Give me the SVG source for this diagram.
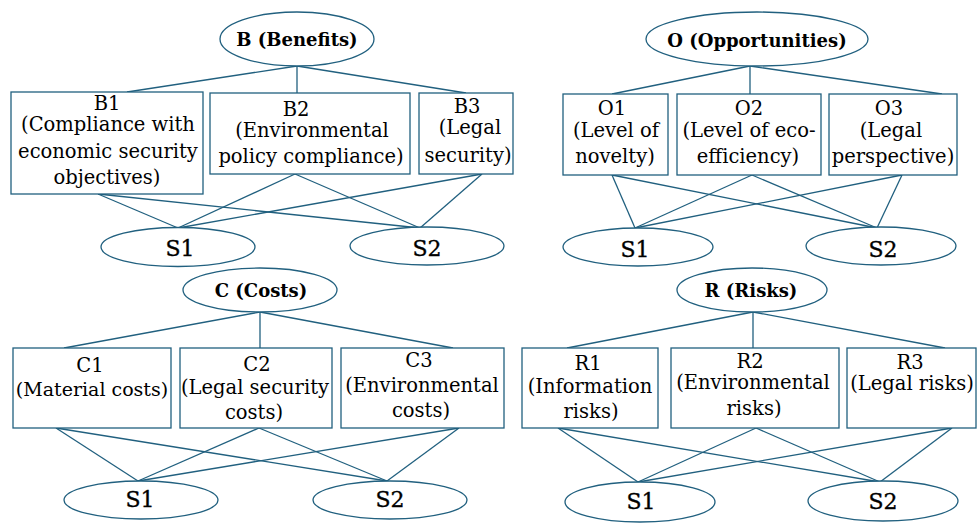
<svg xmlns="http://www.w3.org/2000/svg" width="977" height="525" viewBox="0 0 977 525">
<style>
  .shape { fill: #ffffff; stroke: #21607f; stroke-width: 1.3; }
  .conn line { stroke: #21607f; stroke-width: 1.3; }
  text { font-family: "DejaVu Serif", "Liberation Serif", serif; fill: #000000; text-anchor: middle; }
  .t { font-size: 19.5px; }
  .h { font-size: 18px; font-weight: bold; }
  .s { font-size: 22px; stroke: #000000; stroke-width: 0.35; }
</style>
<rect width="977" height="525" fill="#ffffff"/>
<g id="connectors" class="conn">
  <!-- Benefits -->
  <line x1="297" y1="66" x2="127" y2="92"/>
  <line x1="297" y1="66" x2="297" y2="93"/>
  <line x1="297" y1="66" x2="466" y2="93"/>
  <line x1="98" y1="194" x2="178" y2="228"/>
  <line x1="98" y1="194" x2="420" y2="228"/>
  <line x1="295" y1="174" x2="178" y2="228"/>
  <line x1="295" y1="174" x2="420" y2="228"/>
  <line x1="482" y1="174" x2="178" y2="228"/>
  <line x1="482" y1="174" x2="420" y2="228"/>
  <!-- Opportunities -->
  <line x1="750" y1="66" x2="612" y2="94"/>
  <line x1="750" y1="66" x2="750" y2="94"/>
  <line x1="750" y1="66" x2="942" y2="94"/>
  <line x1="612" y1="175" x2="635" y2="228"/>
  <line x1="612" y1="175" x2="877" y2="228"/>
  <line x1="752" y1="175" x2="635" y2="228"/>
  <line x1="752" y1="175" x2="877" y2="228"/>
  <line x1="902" y1="175" x2="635" y2="228"/>
  <line x1="902" y1="175" x2="877" y2="228"/>
  <!-- Costs -->
  <line x1="260" y1="312" x2="64" y2="348"/>
  <line x1="260" y1="312" x2="260" y2="348"/>
  <line x1="260" y1="312" x2="453" y2="348"/>
  <line x1="56" y1="428" x2="138" y2="481"/>
  <line x1="56" y1="428" x2="387" y2="481"/>
  <line x1="259" y1="428" x2="138" y2="481"/>
  <line x1="259" y1="428" x2="387" y2="481"/>
  <line x1="459" y1="428" x2="138" y2="481"/>
  <line x1="459" y1="428" x2="387" y2="481"/>
  <!-- Risks -->
  <line x1="753" y1="312" x2="567" y2="348"/>
  <line x1="753" y1="312" x2="753" y2="348"/>
  <line x1="753" y1="312" x2="945" y2="348"/>
  <line x1="558" y1="428" x2="638" y2="482"/>
  <line x1="558" y1="428" x2="880" y2="482"/>
  <line x1="756" y1="428" x2="638" y2="482"/>
  <line x1="756" y1="428" x2="880" y2="482"/>
  <line x1="952" y1="428" x2="638" y2="482"/>
  <line x1="952" y1="428" x2="880" y2="482"/>
</g>

<!-- Benefits -->
<g id="B">
  <ellipse class="shape" cx="297" cy="39" rx="77" ry="27"/>
  <text class="h" x="297" y="46">B (Benefits)</text>
</g>
<g id="B1">
  <rect class="shape" x="11" y="92" width="192" height="102"/>
  <text class="t" x="107" y="110">B1</text>
  <text class="t" x="108" y="131">(Compliance with</text>
  <text class="t" x="108" y="158">economic security</text>
  <text class="t" x="107" y="184">objectives)</text>
</g>
<g id="B2">
  <rect class="shape" x="210" y="93" width="200" height="81"/>
  <text class="t" x="296" y="116">B2</text>
  <text class="t" x="312" y="137">(Environmental</text>
  <text class="t" x="311" y="163">policy compliance)</text>
</g>
<g id="B3">
  <rect class="shape" x="419" y="93" width="94" height="81"/>
  <text class="t" x="467" y="113">B3</text>
  <text class="t" x="470" y="134">(Legal</text>
  <text class="t" x="468" y="162">security)</text>
</g>
<g id="B-S1">
  <ellipse class="shape" cx="178" cy="247" rx="77" ry="19.5"/>
  <text class="s" x="180" y="256">S1</text>
</g>
<g id="B-S2">
  <ellipse class="shape" cx="427" cy="246" rx="77" ry="19"/>
  <text class="s" x="427" y="256">S2</text>
</g>

<!-- Opportunities -->
<g id="O">
  <ellipse class="shape" cx="757" cy="39" rx="111" ry="27"/>
  <text class="h" x="757" y="47">O (Opportunities)</text>
</g>
<g id="O1">
  <rect class="shape" x="563" y="94" width="105" height="81"/>
  <text class="t" x="612" y="115">O1</text>
  <text class="t" x="616" y="137">(Level of</text>
  <text class="t" x="615" y="163">novelty)</text>
</g>
<g id="O2">
  <rect class="shape" x="677" y="94" width="144" height="81"/>
  <text class="t" x="749" y="115">O2</text>
  <text class="t" x="749" y="137">(Level of eco-</text>
  <text class="t" x="748" y="163">efficiency)</text>
</g>
<g id="O3">
  <rect class="shape" x="829" y="94" width="128" height="81"/>
  <text class="t" x="889" y="115">O3</text>
  <text class="t" x="891" y="137">(Legal</text>
  <text class="t" x="893" y="163">perspective)</text>
</g>
<g id="O-S1">
  <ellipse class="shape" cx="638" cy="247" rx="75" ry="19"/>
  <text class="s" x="635" y="257">S1</text>
</g>
<g id="O-S2">
  <ellipse class="shape" cx="881" cy="246" rx="75" ry="19"/>
  <text class="s" x="883" y="257">S2</text>
</g>

<!-- Costs -->
<g id="C">
  <ellipse class="shape" cx="260" cy="290" rx="77" ry="22"/>
  <text class="h" x="261" y="297">C (Costs)</text>
</g>
<g id="C1">
  <rect class="shape" x="13" y="348" width="158" height="80"/>
  <text class="t" x="90" y="372">C1</text>
  <text class="t" x="92" y="396" style="font-size:19px">(Material costs)</text>
</g>
<g id="C2">
  <rect class="shape" x="180" y="348" width="152" height="80"/>
  <text class="t" x="257" y="371">C2</text>
  <text class="t" x="255" y="394">(Legal security</text>
  <text class="t" x="254" y="419">costs)</text>
</g>
<g id="C3">
  <rect class="shape" x="341" y="348" width="163" height="80"/>
  <text class="t" x="419" y="367">C3</text>
  <text class="t" x="422" y="392">(Environmental</text>
  <text class="t" x="421" y="417">costs)</text>
</g>
<g id="C-S1">
  <ellipse class="shape" cx="141" cy="500" rx="77" ry="19"/>
  <text class="s" x="140" y="507">S1</text>
</g>
<g id="C-S2">
  <ellipse class="shape" cx="390" cy="500" rx="77" ry="19"/>
  <text class="s" x="390" y="507">S2</text>
</g>

<!-- Risks -->
<g id="R">
  <ellipse class="shape" cx="752" cy="290" rx="75" ry="22"/>
  <text class="h" x="751" y="297">R (Risks)</text>
</g>
<g id="R1">
  <rect class="shape" x="522" y="348" width="136" height="80"/>
  <text class="t" x="588" y="370">R1</text>
  <text class="t" x="590" y="393">(Information</text>
  <text class="t" x="591" y="418">risks)</text>
</g>
<g id="R2">
  <rect class="shape" x="671" y="348" width="168" height="80"/>
  <text class="t" x="750" y="368">R2</text>
  <text class="t" x="753" y="389">(Environmental</text>
  <text class="t" x="754" y="415">risks)</text>
</g>
<g id="R3">
  <rect class="shape" x="847" y="348" width="129" height="80"/>
  <text class="t" x="910" y="369">R3</text>
  <text class="t" x="912" y="390">(Legal risks)</text>
</g>
<g id="R-S1">
  <ellipse class="shape" cx="640" cy="502" rx="75" ry="20"/>
  <text class="s" x="641" y="509">S1</text>
</g>
<g id="R-S2">
  <ellipse class="shape" cx="883" cy="501" rx="75" ry="20"/>
  <text class="s" x="883" y="509">S2</text>
</g>
</svg>
